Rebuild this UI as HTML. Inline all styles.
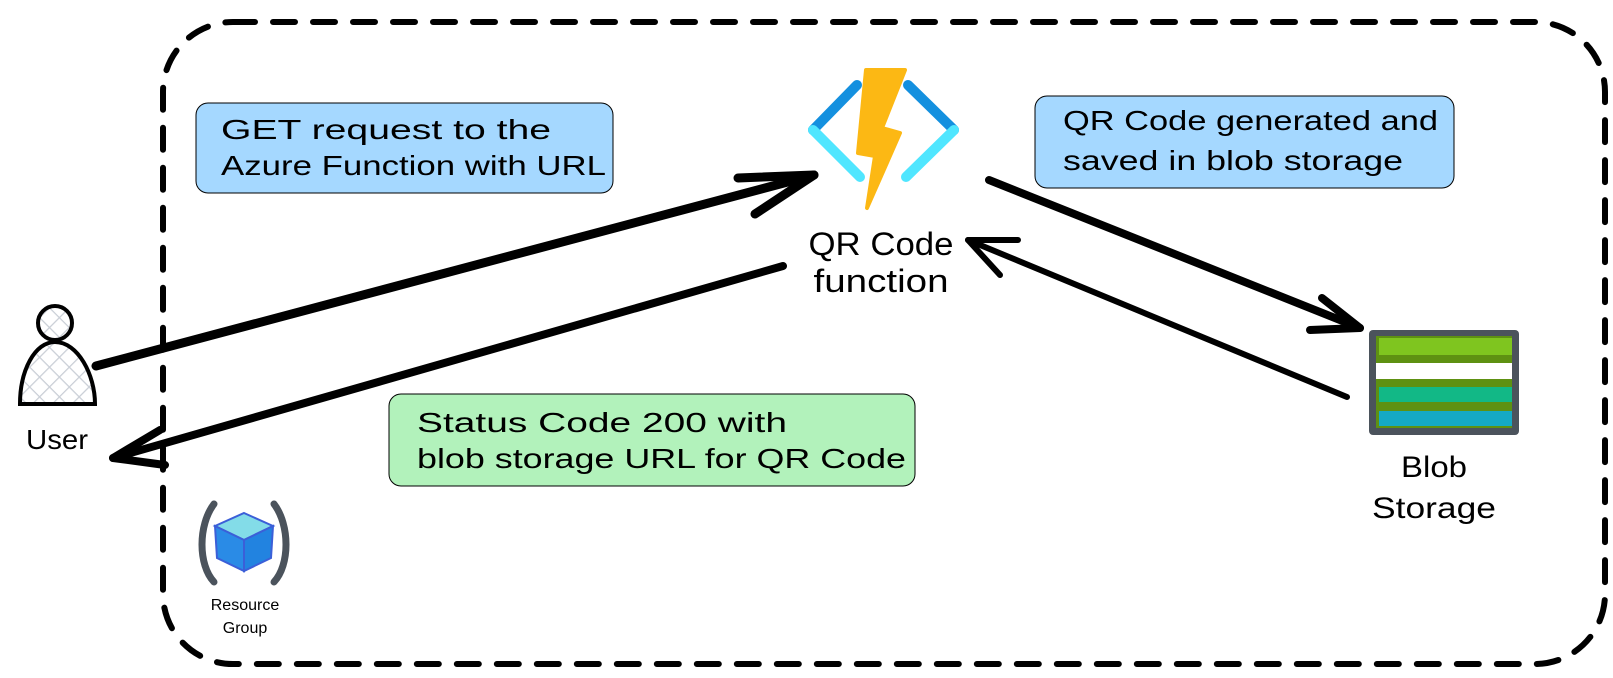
<!DOCTYPE html>
<html><head><meta charset="utf-8"><style>html,body{margin:0;padding:0;background:#fff}svg{display:block}</style></head>
<body>
<svg width="1613" height="678" viewBox="0 0 1613 678" xmlns="http://www.w3.org/2000/svg" font-family="Liberation Sans, sans-serif">
<defs>
<pattern id="hatch" width="14" height="14" patternUnits="userSpaceOnUse" patternTransform="rotate(45)">
<rect width="14" height="14" fill="#fff"/><path d="M0 0V14M0 0H14" stroke="#c9ced6" stroke-width="2.5"/></pattern>
</defs>
<rect x="163" y="22" width="1442" height="642" rx="70" fill="none" stroke="#000" stroke-width="6" stroke-dasharray="22 18" stroke-linecap="round"/>

<rect x="196" y="103" width="417" height="90" rx="12" fill="#a5d8ff" stroke="#000" stroke-width="1"/>
<text x="221" y="139" font-size="28" textLength="330" lengthAdjust="spacingAndGlyphs">GET request to the</text>
<text x="221" y="175" font-size="28" textLength="385" lengthAdjust="spacingAndGlyphs">Azure Function with URL</text>

<rect x="1035" y="96" width="419" height="92" rx="12" fill="#a5d8ff" stroke="#000" stroke-width="1"/>
<text x="1063" y="130" font-size="28" textLength="375" lengthAdjust="spacingAndGlyphs">QR Code generated and</text>
<text x="1063" y="170" font-size="28" textLength="340" lengthAdjust="spacingAndGlyphs">saved in blob storage</text>

<rect x="389" y="394" width="526" height="92" rx="12" fill="#b2f2bb" stroke="#000" stroke-width="1"/>
<text x="417" y="432" font-size="28" textLength="370" lengthAdjust="spacingAndGlyphs">Status Code 200 with</text>
<text x="417" y="468" font-size="28" textLength="489" lengthAdjust="spacingAndGlyphs">blob storage URL for QR Code</text>

<g stroke="#000" fill="none" stroke-linecap="round" stroke-linejoin="round">
<path d="M96 366 L814 175" stroke-width="9"/>
<path d="M738 178 L814 175 L755 214" stroke-width="9"/>
<path d="M783 266 L113 458" stroke-width="8"/>
<path d="M160 430 L113 458 L165 465" stroke-width="8"/>
<path d="M989 180 L1360 328" stroke-width="8"/>
<path d="M1322 298 L1360 328 L1310 330" stroke-width="8"/>
<path d="M1347 397 L968 240" stroke-width="6"/>
<path d="M1018 240 L968 240 L1000 275" stroke-width="6"/>
</g>

<g stroke-linecap="round" stroke-width="10" fill="none">
<path d="M857 85 L813 130" stroke="#1490df"/>
<path d="M813 130 L860 177" stroke="#50e6ff"/>
<path d="M908 85 L954 130" stroke="#1490df"/>
<path d="M954 130 L906 177" stroke="#50e6ff"/>
</g>
<polygon points="866,70 905,70 882,128 900,133 867,208 875,156 858,153" fill="#fcb814" stroke="#fcb814" stroke-width="4" stroke-linejoin="round"/>
<text x="881" y="255" font-size="32" text-anchor="middle" textLength="145" lengthAdjust="spacingAndGlyphs">QR Code</text>
<text x="881" y="292" font-size="32" text-anchor="middle" textLength="135" lengthAdjust="spacingAndGlyphs">function</text>

<rect x="1369" y="330" width="150" height="105" rx="4" fill="#4b535c"/>
<rect x="1376" y="336" width="136" height="92" fill="#5e9112"/>
<rect x="1379" y="338" width="133" height="17" fill="#7fc51f"/>
<rect x="1376" y="363" width="136" height="16" fill="#fff"/>
<rect x="1379" y="387" width="133" height="15" fill="#12b886"/>
<rect x="1379" y="411" width="133" height="15" fill="#15a9c4"/>
<text x="1434" y="477" font-size="30" text-anchor="middle" textLength="66" lengthAdjust="spacingAndGlyphs">Blob</text>
<text x="1434" y="518" font-size="30" text-anchor="middle" textLength="124" lengthAdjust="spacingAndGlyphs">Storage</text>

<path d="M20 404 C20 370 35 342 55 342 C78 342 95 375 95 404 Z" fill="url(#hatch)" stroke="#000" stroke-width="4"/>
<circle cx="55" cy="323" r="17" fill="url(#hatch)" stroke="#000" stroke-width="4"/>
<text x="26" y="449" font-size="28" textLength="62" lengthAdjust="spacingAndGlyphs">User</text>

<path d="M214 504 C198 525 198 565 214 582" stroke="#4b535c" stroke-width="7" fill="none" stroke-linecap="round"/>
<path d="M274 504 C290 525 290 565 274 582" stroke="#4b535c" stroke-width="7" fill="none" stroke-linecap="round"/>
<polygon points="244,513 273,526 244,540 215,526" fill="#83dce8" stroke="#3b5fd8" stroke-width="2"/>
<polygon points="215,526 244,540 244,571 217,558" fill="#2a8be6" stroke="#3b5fd8" stroke-width="2"/>
<polygon points="273,526 244,540 244,571 271,558" fill="#2283e0" stroke="#3b5fd8" stroke-width="2"/>
<text x="245" y="610" font-size="16" text-anchor="middle">Resource</text>
<text x="245" y="633" font-size="16" text-anchor="middle">Group</text>
</svg>
</body></html>
